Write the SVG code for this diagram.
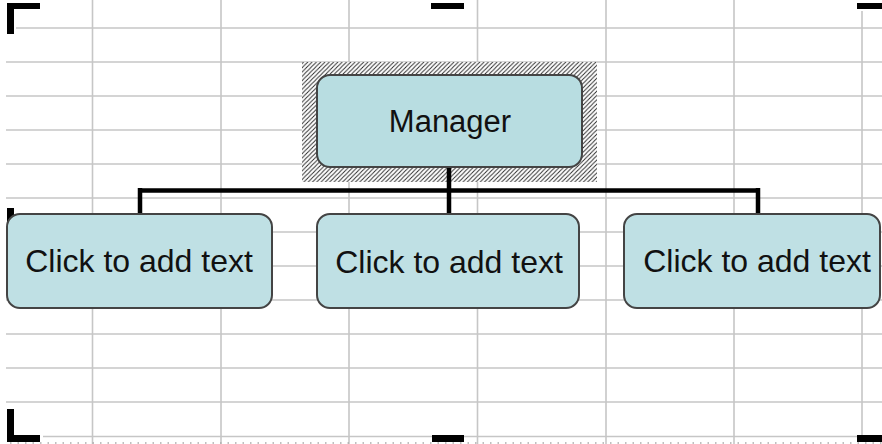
<svg xmlns="http://www.w3.org/2000/svg" width="882" height="444" viewBox="0 0 882 444">
  <style>
    .grid line { stroke: #c6c6c6; stroke-width: 1.6; }
    .mark { fill: #000; }
    .box { fill: #bfe0e4; stroke: #444; stroke-width: 2; }
    .lbl { font-family: "Liberation Sans", Arial, sans-serif; font-size: 32px; fill: #111; text-anchor: middle; }
    .conn { stroke: #000; stroke-width: 4.5; fill: none; }
  </style>
  <defs>
    <pattern id="hatch" patternUnits="userSpaceOnUse" width="4.3" height="4.3">
      <rect width="4.3" height="4.3" fill="#fff"/>
      <path d="M-1,1 L1,-1 M0,4.3 L4.3,0 M3.3,5.3 L5.3,3.3" stroke="#222" stroke-width="0.9"/>
    </pattern>
  </defs>
  <rect width="882" height="444" fill="#fff"/>
  <g class="grid">
    <line x1="16" y1="28" x2="882" y2="28"/>
    <line x1="6" y1="62" x2="882" y2="62"/>
    <line x1="6" y1="96" x2="882" y2="96"/>
    <line x1="6" y1="130" x2="882" y2="130"/>
    <line x1="6" y1="164" x2="882" y2="164"/>
    <line x1="6" y1="198" x2="882" y2="198"/>
    <line x1="6" y1="232" x2="882" y2="232"/>
    <line x1="6" y1="266" x2="882" y2="266"/>
    <line x1="6" y1="300" x2="882" y2="300"/>
    <line x1="6" y1="334" x2="882" y2="334"/>
    <line x1="6" y1="368" x2="882" y2="368"/>
    <line x1="6" y1="402" x2="882" y2="402"/>
    <line x1="43" y1="436.5" x2="857" y2="436.5"/>
    <line x1="92.5" y1="0" x2="92.5" y2="444"/>
    <line x1="221" y1="0" x2="221" y2="444"/>
    <line x1="349" y1="0" x2="349" y2="444"/>
    <line x1="477.5" y1="0" x2="477.5" y2="444"/>
    <line x1="606" y1="0" x2="606" y2="444"/>
    <line x1="734" y1="0" x2="734" y2="444"/>
    <line x1="862" y1="11" x2="862" y2="436"/>
    <line x1="10" y1="443" x2="882" y2="443" stroke-dasharray="1.5 6" style="stroke:#aaa"/>
  </g>
  <g id="handles">
    <rect class="mark" x="7" y="3" width="33" height="6"/>
    <rect class="mark" x="7" y="3" width="7" height="31"/>
    <rect class="mark" x="431" y="3" width="33" height="6"/>
    <rect class="mark" x="857" y="3" width="25" height="6"/>
    <rect class="mark" x="7" y="208" width="7" height="32"/>
    <rect class="mark" x="7" y="409" width="7" height="33"/>
    <rect class="mark" x="7" y="435" width="33" height="7"/>
    <rect class="mark" x="432" y="435" width="32" height="7"/>
    <rect class="mark" x="857" y="435" width="25" height="7"/>
  </g>
  <g id="selection">
    <rect x="302" y="62" width="295" height="120" fill="url(#hatch)"/>
  </g>
  <g id="connectors">
    <path class="conn" d="M449,167 V190.5 M140,190.5 H760 M140,188 V215 M449,188 V215 M758,188 V215"/>
  </g>
  <g id="manager">
    <rect class="box" x="317" y="75" width="265" height="92" rx="13" style="fill:#b8dde1"/>
    <text class="lbl" x="450" y="132" style="font-size:31px">Manager</text>
  </g>
  <g id="child1">
    <rect class="box" x="7" y="214" width="265" height="94" rx="13"/>
    <text class="lbl" x="139" y="272">Click to add text</text>
  </g>
  <g id="child2">
    <rect class="box" x="317" y="214" width="262" height="94" rx="13"/>
    <text class="lbl" x="449" y="273">Click to add text</text>
  </g>
  <g id="child3">
    <rect class="box" x="624" y="214" width="256" height="94" rx="13"/>
    <text class="lbl" x="757" y="272">Click to add text</text>
  </g>
</svg>
